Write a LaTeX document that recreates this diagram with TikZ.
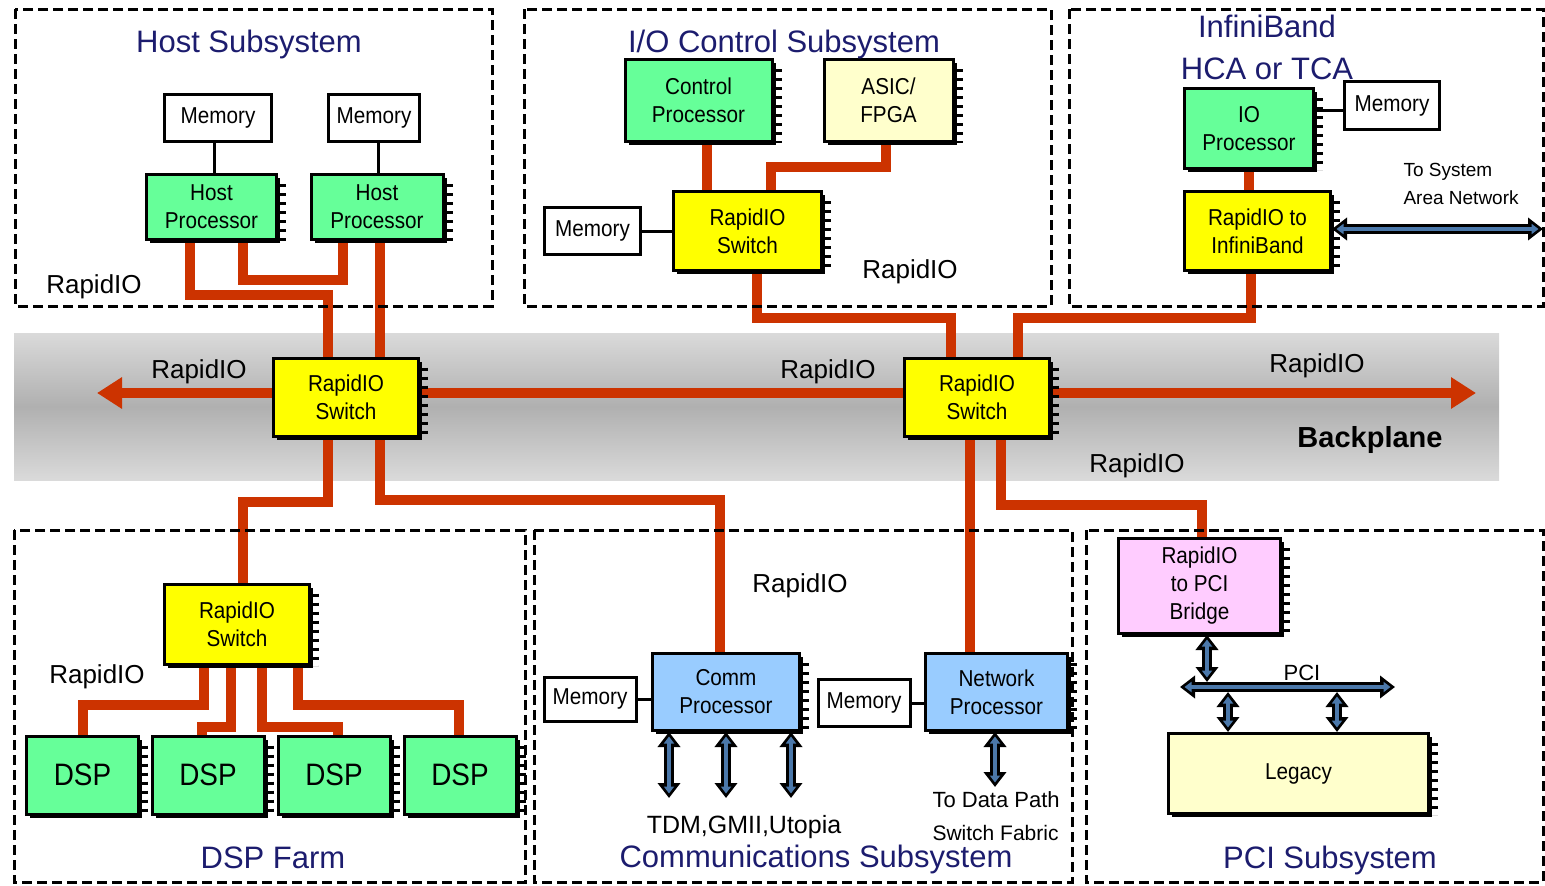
\documentclass[tikz,border=0pt]{standalone}
\usepackage{fontspec}
\setmainfont{Liberation Sans}
\newfontfamily\boxfont[FakeStretch=0.9]{Liberation Sans}
\usetikzlibrary{shadows,arrows.meta}
\definecolor{procgreen}{RGB}{102,255,153}
\definecolor{switchyellow}{RGB}{255,255,0}
\definecolor{asiccream}{RGB}{255,255,204}
\definecolor{commblue}{RGB}{153,204,255}
\definecolor{bridgepink}{RGB}{255,204,255}
\definecolor{riored}{RGB}{204,51,0}
\definecolor{titleblue}{RGB}{28,28,110}
\definecolor{busblue}{RGB}{75,120,170}
\definecolor{bandlight}{RGB}{218,218,218}
\definecolor{banddark}{RGB}{176,176,176}
\pgfdeclarelayer{band}
\pgfdeclarelayer{wires}
\pgfsetlayers{band,wires,main}
% row of package pins along the right edge of a component
\newcommand\pinrow[1]{\draw[pins] ([xshift=4.5pt,yshift=-11pt]#1.north east) -- ([xshift=4.5pt]#1.south east);}
% outlined double-headed bus arrow
\newcommand\busarrow[2]{\draw[busout] #1 -- #2; \draw[busin] #1 -- #2;}
\begin{document}
\begin{tikzpicture}[x=1pt,y=-1pt,
  comp/.style={draw,line width=3pt,inner sep=0pt,align=center,
    font=\boxfont\fontsize{23}{28}\selectfont,
    drop shadow={shadow xshift=3.5pt,shadow yshift=-3.5pt,opacity=1,fill=black}},
  mem/.style={draw,line width=3pt,fill=white,inner sep=0pt,font=\boxfont\fontsize{23}{26}\selectfont},
  subsys/.style={draw,line width=3pt,dash pattern=on 10pt off 5pt},
  title/.style={anchor=base,text=titleblue,font=\fontsize{31}{36}\selectfont},
  lbl/.style={anchor=base,font=\fontsize{26}{30}\selectfont},
  note/.style={anchor=base,font=\fontsize{22}{26}\selectfont},
  rio/.style={draw=riored,line width=10.5pt},
  link/.style={draw=black,line width=3pt},
  pins/.style={line width=7pt,dash pattern=on 3pt off 6pt},
  busout/.style={line width=10pt,{Triangle[width=22pt,length=15pt]}-{Triangle[width=22pt,length=15pt]}},
  busin/.style={line width=3.5pt,busblue,shorten <=4.5pt,shorten >=4.5pt,
    {Triangle[width=10pt,length=7pt]}-{Triangle[width=10pt,length=7pt]}},
  bigarrow/.style={-{Triangle[width=30pt,length=25pt]}}
]
\useasboundingbox (0,0) rectangle (1545,886);

% subsystem frames
\draw[subsys] (15,9) rectangle (492,306);
\draw[subsys] (524,9) rectangle (1051,306);
\draw[subsys] (1069,9) rectangle (1543,306);
\draw[subsys] (14,530) rectangle (525,882);
\draw[subsys] (534,530) rectangle (1072,882);
\draw[subsys] (1086,530) rectangle (1543,882);

% backplane band
\begin{pgfonlayer}{band}
\shade[top color=bandlight,bottom color=bandlight,middle color=banddark] (14,333) rectangle (1499,480);
\end{pgfonlayer}

% host subsystem
\node[comp,fill=procgreen,minimum width=130pt,minimum height=65pt] (hp1) at (211.5,207) {Host\\Processor};
\node[comp,fill=procgreen,minimum width=132pt,minimum height=65pt] (hp2) at (377,207) {Host\\Processor};
\node[mem,minimum width=107pt,minimum height=47pt] (memh1) at (218,118) {Memory};
\node[mem,minimum width=91pt,minimum height=47pt] (memh2) at (374,118) {Memory};

% I/O control subsystem
\node[comp,fill=procgreen,minimum width=147pt,minimum height=82pt] (cp) at (698.5,100.5) {Control\\Processor};
\node[comp,fill=asiccream,minimum width=129pt,minimum height=82pt] (asic) at (888.5,100.5) {ASIC/\\FPGA};
\node[comp,fill=switchyellow,minimum width=148pt,minimum height=79pt] (iosw) at (747.5,231) {RapidIO\\Switch};
\node[mem,minimum width=96pt,minimum height=47pt] (memio) at (592.5,231) {Memory};

% InfiniBand HCA/TCA
\node[comp,fill=procgreen,minimum width=129pt,minimum height=80pt] (iop) at (1249,128.5) {IO\\Processor};
\node[mem,minimum width=95pt,minimum height=48pt] (memib) at (1392,105.5) {Memory};
\node[comp,fill=switchyellow,minimum width=146pt,minimum height=79pt] (rioib) at (1257.5,231) {RapidIO to\\InfiniBand};

% backplane switches
\node[comp,fill=switchyellow,minimum width=145pt,minimum height=78pt] (sw1) at (346,397) {RapidIO\\Switch};
\node[comp,fill=switchyellow,minimum width=145pt,minimum height=78pt] (sw2) at (977,397) {RapidIO\\Switch};

% DSP farm
\node[comp,fill=switchyellow,minimum width=145pt,minimum height=80pt] (dsw) at (237,624) {RapidIO\\Switch};
\foreach \i/\x in {1/82.5,2/208,3/334,4/460}
  \node[comp,fill=procgreen,minimum width=112pt,minimum height=78pt,font=\boxfont\fontsize{31}{34}\selectfont] (dsp\i) at (\x,775) {DSP};

% communications subsystem
\node[mem,minimum width=92pt,minimum height=44pt] (memc1) at (590,699) {Memory};
\node[comp,fill=commblue,minimum width=147pt,minimum height=77pt] (comm) at (726,692) {Comm\\Processor};
\node[mem,minimum width=92pt,minimum height=47pt] (memc2) at (864,703) {Memory};
\node[comp,fill=commblue,minimum width=142pt,minimum height=77pt] (net) at (996.5,692) {Network\\Processor};

% PCI subsystem
\node[comp,fill=bridgepink,minimum width=162pt,minimum height=95pt] (bridge) at (1199.5,586) {RapidIO\\to PCI\\Bridge};
\node[comp,fill=asiccream,minimum width=260pt,minimum height=80pt,font=\boxfont\fontsize{23}{26}\selectfont] (legacy) at (1298.5,773.5) {Legacy};

\foreach \n in {hp1,hp2,cp,asic,iosw,iop,rioib,sw1,sw2,dsw,dsp1,dsp2,dsp3,dsp4,comm,net,bridge,legacy}
  {\pinrow{\n}}

% free ends of the connectors
\coordinate (westend) at (97,393);
\coordinate (eastend) at (1476,393);
\coordinate (san) at (1543,229);
\coordinate (tdm1) at (669,798);
\coordinate (tdm2) at (726,798);
\coordinate (tdm3) at (791,798);
\coordinate (dpath) at (995,787);
\coordinate (pciw) at (1180,687);
\coordinate (pcie) at (1395,687);
\coordinate (tapa) at (1207,682);
\coordinate (tapb) at (1228,692);
\coordinate (tapc) at (1337,692);

\begin{pgfonlayer}{wires}
% memory attachments
\draw[link] (memh1.south -| 214,0) -- (hp1.north -| 214,0);
\draw[link] (memh2.south -| 378,0) -- (hp2.north -| 378,0);
\draw[link] (memio) -- (iosw);
\draw[link] (iop.east |- 0,110) -- (memib.west |- 0,110);
\draw[link] (memc1) -- (comm.west |- memc1);
\draw[link] (memc2) -- (net.west |- memc2);
% RapidIO links
\draw[rio] (hp1.south -| 190,0) -- (190,295) -- (328,295) -- (sw1.north -| 328,0);
\draw[rio] (hp1.south -| 243,0) -- (243,280) -- (343,280) -- (hp2.south -| 343,0);
\draw[rio] (hp2.south -| 380,0) -- (sw1.north -| 380,0);
\draw[rio] (sw1.east |- 0,393) -- (sw2.west |- 0,393);
\draw[rio,bigarrow] (sw1.west |- westend) -- (westend);
\draw[rio,bigarrow] (sw2.east |- eastend) -- (eastend);
\draw[rio] (sw1.south -| 328,0) -- (328,502) -- (243,502) -- (dsw.north -| 243,0);
\draw[rio] (sw1.south -| 380,0) -- (380,500) -- (720,500) -- (comm.north -| 720,0);
\draw[rio] (cp.south -| 707,0) -- (iosw.north -| 707,0);
\draw[rio] (asic.south -| 886,0) -- (886,167) -- (771,167) -- (iosw.north -| 771,0);
\draw[rio] (iosw.south -| 757,0) -- (757,318) -- (951,318) -- (sw2.north -| 951,0);
\draw[rio] (iop.south -| 1249,0) -- (rioib.north -| 1249,0);
\draw[rio] (rioib.south -| 1251,0) -- (1251,318) -- (1018,318) -- (sw2.north -| 1018,0);
\draw[rio] (sw2.south -| 970,0) -- (net.north -| 970,0);
\draw[rio] (sw2.south -| 1001,0) -- (1001,505) -- (1202,505) -- (bridge.north -| 1202,0);
\draw[rio] (dsw.south -| 204,0) -- (204,705) -- (83,705) -- (dsp1.north -| 83,0);
\draw[rio] (dsw.south -| 231,0) -- (231,727) -- (202,727) -- (dsp2.north -| 202,0);
\draw[rio] (dsw.south -| 262,0) -- (262,727) -- (338,727) -- (dsp3.north -| 338,0);
\draw[rio] (dsw.south -| 298,0) -- (298,705) -- (459,705) -- (dsp4.north -| 459,0);
\end{pgfonlayer}

% external buses
\busarrow{(rioib.east |- san)}{(san)}
\busarrow{(comm.south -| tdm1)}{(tdm1)}
\busarrow{(comm.south -| tdm2)}{(tdm2)}
\busarrow{(comm.south -| tdm3)}{(tdm3)}
\busarrow{(net.south -| dpath)}{(dpath)}
\busarrow{(bridge.south -| tapa)}{(tapa)}
\busarrow{(tapb)}{(legacy.north -| tapb)}
\busarrow{(tapc)}{(legacy.north -| tapc)}
\busarrow{(pciw)}{(pcie)}

% titles
\node[title] (t1) at (249,52) {Host Subsystem};
\node[title] (t2) at (784,52) {I/O Control Subsystem};
\node[title] (t3) at (1267,37) {InfiniBand};
\node[title] (t4) at (1267,79) {HCA or TCA};
\node[title] (t5) at (273,868) {DSP Farm};
\node[title] (t6) at (816,867) {Communications Subsystem};
\node[title] (t7) at (1330,868) {PCI Subsystem};
\node[anchor=base,font=\bfseries\fontsize{29}{34}\selectfont] (bp) at (1370,447) {Backplane};

% link labels
\node[lbl] (l1) at (94,293) {RapidIO};
\node[lbl] (l2) at (199,378) {RapidIO};
\node[lbl] (l3) at (828,378) {RapidIO};
\node[lbl] (l4) at (1317,372) {RapidIO};
\node[lbl] (l5) at (1137,472) {RapidIO};
\node[lbl] (l6) at (910,278) {RapidIO};
\node[lbl] (l7) at (97,683) {RapidIO};
\node[lbl] (l8) at (800,592) {RapidIO};

% other notes
\node[anchor=base west,font=\fontsize{19}{24}\selectfont] (n1) at (1400,176) {To System};
\node[anchor=base west,font=\fontsize{19}{24}\selectfont] (n2) at (1400,204) {Area Network};
\node[anchor=base,font=\fontsize{25}{30}\selectfont] (n3) at (744,833) {TDM,GMII,Utopia};
\node[note,anchor=base west] (n4) at (929,807) {To Data Path};
\node[note,anchor=base west,font=\fontsize{21}{24}\selectfont] (n5) at (929,840) {Switch Fabric};
\node[note] (n6) at (1302,680) {PCI};
\end{tikzpicture}
\end{document}
